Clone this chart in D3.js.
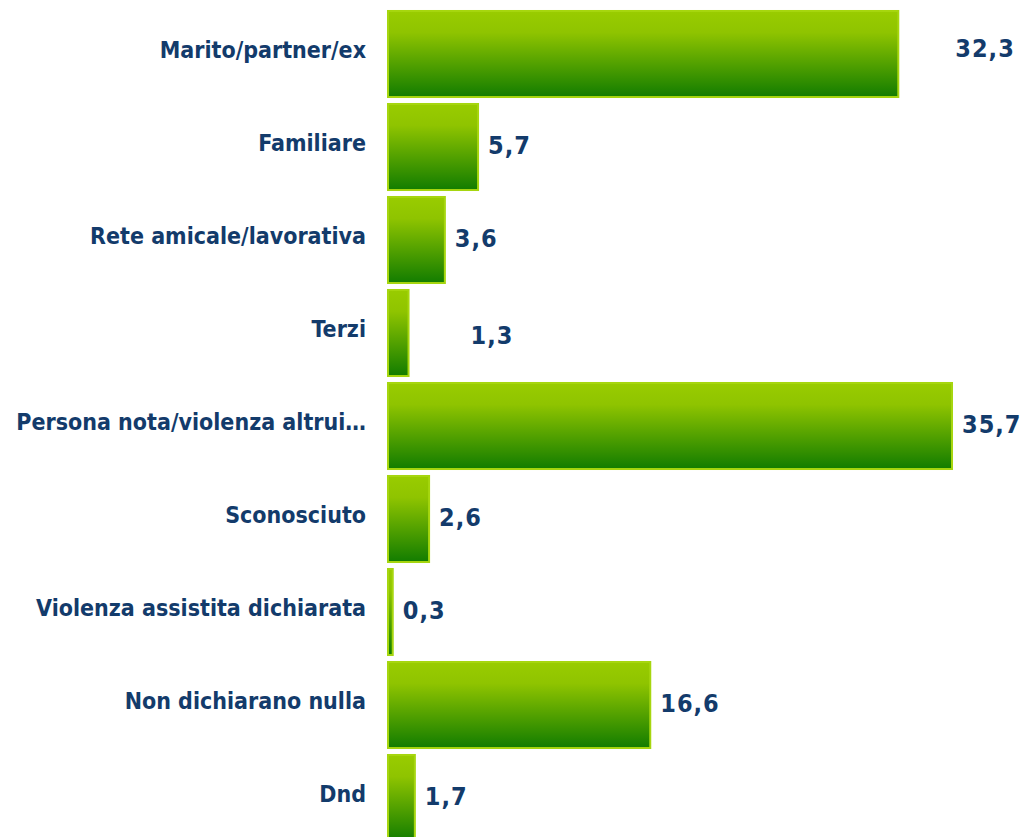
<!DOCTYPE html>
<html>
<head>
<meta charset="utf-8">
<script src="https://cdn.jsdelivr.net/npm/d3@7"></script>
<style>
  body { margin: 0; background: #fff; }
  svg { display: block; }
</style>
</head>
<body>
<div id="grafico"></div>
<script>
// categorie e valori (%)
var categorie = ["Marito/partner/ex", "Familiare", "Rete amicale/lavorativa", "Terzi",
  "Persona nota/violenza altrui…", "Sconosciuto", "Violenza assistita dichiarata",
  "Non dichiarano nulla", "Dnd"];
var valori = [32.3, 5.7, 3.6, 1.3, 35.7, 2.6, 0.3, 16.6, 1.7];

// piccoli spostamenti delle etichette valore (come nel grafico originale)
var spostaX = {"Marito/partner/ex": 47, "Terzi": 52};
var spostaY = {"Marito/partner/ex": -4, "Terzi": 4};

var width = 1027, height = 837;
var x0 = 388;

var svg = d3.select("#grafico").append("svg")
  .attr("width", width)
  .attr("height", height);

var defs = svg.append("defs");
var grad = defs.append("linearGradient")
  .attr("id", "verde")
  .attr("x1", 0).attr("y1", 0).attr("x2", 0).attr("y2", 1);
grad.append("stop").attr("offset", "0%").attr("stop-color", "#99cc00");
grad.append("stop").attr("offset", "25%").attr("stop-color", "#8fc400");
grad.append("stop").attr("offset", "100%").attr("stop-color", "#127c00");

var xScale = d3.scaleLinear()
  .domain([0, 35.7])
  .range([x0, 952]);

var yScale = d3.scaleBand()
  .domain(categorie)
  .range([7.5, 844.5])
  .paddingInner(0.075)
  .paddingOuter(0.0375);

var dati = categorie.map(function(c, i) { return {cat: c, val: valori[i]}; });

// barre
svg.selectAll(".barra").data(dati)
  .enter().append("rect")
    .attr("class", "barra")
    .attr("x", xScale(0))
    .attr("y", d => yScale(d.cat))
    .attr("width", d => xScale(d.val) - xScale(0))
    .attr("height", yScale.bandwidth())
    .attr("fill", "url(#verde)")
    .attr("stroke", "#a6d60f")
    .attr("stroke-width", 2);

// etichette categorie
svg.selectAll(".etichetta").data(dati)
  .enter().append("text")
    .attr("class", "etichetta")
    .attr("x", 366)
    .attr("y", d => yScale(d.cat) + yScale.bandwidth() / 2 - 4)
    .attr("dy", "0.35em")
    .attr("text-anchor", "end")
    .style("font-family", "'DejaVu Sans Condensed', 'DejaVu Sans', sans-serif")
    .style("font-stretch", "condensed")
    .style("font-weight", "bold")
    .style("font-size", "23px")
    .style("fill", "#133b6b")
    .text(d => d.cat);

// valori
svg.selectAll(".valore").data(dati)
  .enter().append("text")
    .attr("class", "valore")
    .attr("x", d => xScale(d.val) + 10 + (spostaX[d.cat] || 0))
    .attr("y", d => yScale(d.cat) + yScale.bandwidth() / 2 - 2 + (spostaY[d.cat] || 0))
    .attr("dy", "0.35em")
    .style("font-family", "'DejaVu Sans Condensed', 'DejaVu Sans', sans-serif")
    .style("font-stretch", "condensed")
    .style("font-weight", "bold")
    .style("font-size", "25px")
    .style("letter-spacing", "1px")
    .style("fill", "#133b6b")
    .text(d => d3.format(".1f")(d.val).replace(".", ","));
</script>
</body>
</html>
